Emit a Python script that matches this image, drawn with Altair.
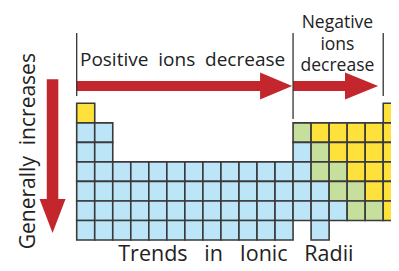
import altair as alt
import pandas as pd

# ---- data -------------------------------------------------------------
# one string per period (row), one character per group (column 1..18)
# B = blue (metal), G = green (metalloid), Y = yellow (nonmetal), . = empty
period_rows = [
    "Y................Y",
    "BB..........GYYYYY",
    "BB..........BGYYYY",
    "BBBBBBBBBBBBBGGYYY",
    "BBBBBBBBBBBBBBGGYY",
    "BBBBBBBBBBBBBBBGGY",
    "BBBBBBBBBBBB.B....",
]
kind_codes = ["B", "G", "Y"]
kind_colors = ["#BDE5F8", "#C6DF9D", "#FFE13B"]

title_text = "Trends\u00a0\u00a0 in\u00a0\u00a0 Ionic\u00a0\u00a0 Radii"
top_left_label = "Positive\u00a0 ions\u00a0 decrease"
top_right_label = "Negative\nions\ndecrease"
side_label = "Generally\u00a0 increases"

# ---- geometry of the canvas (grid units) -----------------------------
W, H = 383, 255
UX, UY = 18.03, 19.53          # pixels per group / per period
X_MIN = 0.5 - 68.7 / UX
Y_MIN = 0.5 - 95.3 / UY
xs = alt.Scale(domain=[X_MIN, X_MIN + W / UX], nice=False, zero=False)
ys = alt.Scale(domain=[Y_MIN, Y_MIN + H / UY], nice=False, zero=False, reverse=True)

cells = []
for p, row in enumerate(period_rows, start=1):
    for g, ch in enumerate(row, start=1):
        if ch != ".":
            cells.append({"group": g, "period": p, "kind": ch})
cells_df = pd.DataFrame(cells)

grid = (
    alt.Chart(cells_df)
    .transform_calculate(
        x0="datum.group - 0.5", x1="datum.group + 0.5",
        y0="datum.period - 0.5", y1="datum.period + 0.5",
    )
    .mark_rect(stroke="#3a3a3a", strokeWidth=1.6)
    .encode(
        x=alt.X("x0:Q", scale=xs, axis=None),
        x2="x1:Q",
        y=alt.Y("y0:Q", scale=ys, axis=None),
        y2="y1:Q",
        color=alt.Color("kind:N", scale=alt.Scale(domain=kind_codes, range=kind_colors), legend=None),
    )
)

# horizontal arrows (shaft + head as an area outline)
h_arrow_df = pd.DataFrame({
    "arrow": ["a", "a", "a", "a", "b", "b", "b", "b"],
    "x":   [0.5, 10.67, 10.671, 12.45, 12.5, 15.38, 15.381, 17.22],
    "top": [-0.64, -0.64, -1.08, -0.39, -0.64, -0.64, -1.08, -0.39],
    "bot": [-0.13, -0.13, 0.30, -0.39, -0.13, -0.13, 0.30, -0.39],
})
h_arrows = alt.Chart(h_arrow_df).mark_area(orient="vertical", color="#C4262E", opacity=1).encode(
    x=alt.X("x:Q", scale=xs, axis=None),
    y=alt.Y("top:Q", scale=ys, axis=None),
    y2="bot:Q",
    detail="arrow:N",
)

v_arrow_df = pd.DataFrame({
    "y": [-0.73, 5.40, 5.401, 7.14],
    "left": [-1.16, -1.16, -1.56, -0.84],
    "right": [-0.52, -0.52, -0.12, -0.84],
})
v_arrow = alt.Chart(v_arrow_df).mark_area(orient="horizontal", color="#C4262E", opacity=1).encode(
    y=alt.Y("y:Q", scale=ys, axis=None),
    x=alt.X("left:Q", scale=xs, axis=None),
    x2="right:Q",
)

rules_df = pd.DataFrame({"x": [0.5, 12.5, 17.5], "y0": [-3.1, -3.1, -3.1], "y1": [0.13, 1.3, 0.13]})
rules = alt.Chart(rules_df).mark_rule(color="#333333", strokeWidth=1.3).encode(
    x=alt.X("x:Q", scale=xs, axis=None),
    y=alt.Y("y0:Q", scale=ys, axis=None),
    y2="y1:Q",
)

FONT = "Open Sans"

t_left = alt.Chart(pd.DataFrame({"x": [0.68], "y": [-1.43], "t": [top_left_label]})).mark_text(
    align="left", baseline="alphabetic", font=FONT, fontSize=19, color="#222222"
).encode(x=alt.X("x:Q", scale=xs, axis=None), y=alt.Y("y:Q", scale=ys, axis=None), text="t:N")

t_right = alt.Chart(pd.DataFrame({"x": [14.96], "y": [-3.34], "t": [top_right_label]})).mark_text(
    align="center", baseline="alphabetic", font=FONT, fontSize=17.5, color="#222222",
    lineBreak="\n", lineHeight=21.3,
).encode(x=alt.X("x:Q", scale=xs, axis=None), y=alt.Y("y:Q", scale=ys, axis=None), text="t:N")

t_side = alt.Chart(pd.DataFrame({"x": [-1.81], "y": [2.95], "t": [side_label]})).mark_text(
    align="center", baseline="alphabetic", font=FONT, fontSize=21, angle=270, color="#222222"
).encode(x=alt.X("x:Q", scale=xs, axis=None), y=alt.Y("y:Q", scale=ys, axis=None), text="t:N")

t_title = alt.Chart(pd.DataFrame({"x": [9.33], "y": [8.55], "t": [title_text]})).mark_text(
    align="center", baseline="alphabetic", font=FONT, fontSize=21.5, color="#222222"
).encode(x=alt.X("x:Q", scale=xs, axis=None), y=alt.Y("y:Q", scale=ys, axis=None), text="t:N")

chart = (
    alt.layer(grid, h_arrows, v_arrow, rules, t_left, t_right, t_side, t_title)
    .properties(width=W, height=H, autosize="none", padding=0, background="white")
    .configure_view(stroke=None)
)

chart.save("out.html", embed_options={"renderer": "svg", "actions": False})
